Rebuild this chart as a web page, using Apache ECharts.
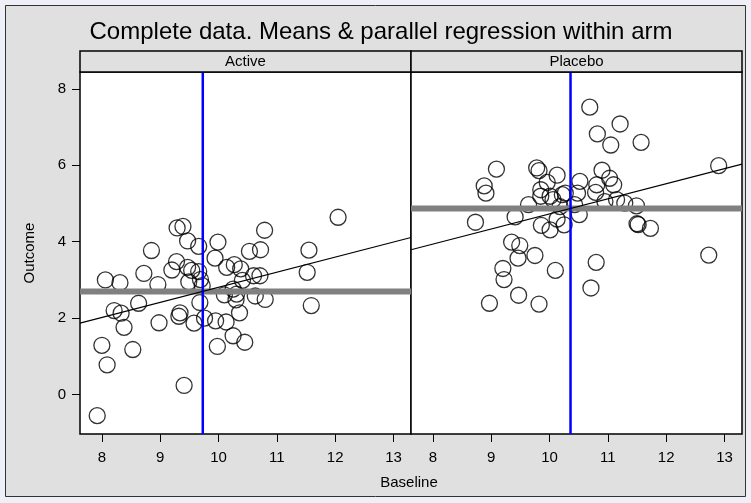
<!DOCTYPE html>
<html>
<head>
<meta charset="utf-8">
<script src="https://cdn.jsdelivr.net/npm/echarts@6/dist/echarts.min.js"></script>
<style>
html,body{margin:0;padding:0;background:#efeff7;}
#main{width:751px;height:503px;}
</style>
</head>
<body>
<div id="main"></div>
<script>
// data
var armNames = ['Active', 'Placebo'];

var activeBaseline = [12.05, 9.29, 9.39, 10.79, 9.47, 9.99, 9.66, 8.85, 11.55, 10.53,
  10.72, 9.94, 9.28, 9.20, 9.47, 9.54, 9.66, 8.72, 10.14, 10.27,
  10.38, 10.60, 10.71, 11.52, 8.06, 8.31, 8.96, 9.49, 9.69, 9.72,
  10.41, 10.25, 10.31, 10.10, 10.30, 10.63, 10.80, 9.68, 8.63, 8.21,
  8.33, 9.32, 9.34, 8.98, 9.58, 9.76, 9.95, 10.13, 10.36, 11.59,
  8.38, 10.25, 10.45, 8.00, 8.53, 9.98, 8.09, 9.41, 7.92];
var activeOutcome = [4.64, 4.36, 4.40, 4.30, 4.02, 3.99, 3.88, 3.77, 3.78, 3.75,
  3.79, 3.57, 3.48, 3.26, 3.33, 3.25, 3.22, 3.17, 3.33, 3.40,
  3.29, 3.11, 3.11, 3.20, 3.00, 2.93, 2.88, 2.95, 3.01, 2.85,
  2.99, 2.76, 2.63, 2.61, 2.48, 2.58, 2.49, 2.41, 2.39, 2.20,
  2.13, 2.05, 2.14, 1.88, 1.87, 2.00, 1.93, 1.90, 2.14, 2.33,
  1.76, 1.54, 1.37, 1.29, 1.18, 1.26, 0.78, 0.24, -0.55];

var placeboBaseline = [10.69, 11.21, 10.82, 11.05, 11.57, 12.90, 9.09, 9.78, 9.82, 10.13,
  10.90, 10.52, 11.03, 11.10, 8.88, 8.91, 9.96, 9.85, 9.85, 10.01,
  10.06, 10.27, 10.48, 10.81, 10.79, 11.15, 11.29, 11.49, 9.64, 10.18,
  10.43, 10.95, 8.73, 9.41, 9.86, 10.01, 10.13, 10.25, 10.51, 11.50,
  11.73, 9.35, 9.49, 9.75, 9.46, 10.80, 12.73, 9.20, 10.10, 9.22,
  10.71, 9.47, 8.97, 9.82, 11.52, 10.22];
var placeboOutcome = [7.52, 7.08, 6.82, 6.53, 6.60, 5.99, 5.90, 5.93, 5.86, 5.74,
  5.87, 5.58, 5.66, 5.49, 5.46, 5.27, 5.55, 5.36, 5.19, 5.19,
  5.10, 5.27, 5.27, 5.49, 5.29, 5.10, 5.01, 4.94, 4.97, 4.92,
  4.97, 5.05, 4.51, 4.65, 4.43, 4.31, 4.59, 4.44, 4.71, 4.47,
  4.35, 3.99, 3.90, 3.64, 3.57, 3.46, 3.65, 3.30, 3.25, 3.01,
  2.79, 2.60, 2.39, 2.37, 4.45, 5.23];

// means per arm [baseline, outcome] and common slope
var meanBaseline = [9.73, 10.36];
var meanOutcome = [2.70, 4.87];
var slope = 0.395;

var xTicks = [8, 9, 10, 11, 12, 13];
var yTicks = [0, 2, 4, 6, 8];
var xMin = 7.625, xMax = 13.3;
var yMin = -1.03, yMax = 8.44;

function pairs(xs, ys) {
  return xs.map(function (v, i) { return [v, ys[i]]; });
}

var font = 'Liberation Sans, Arial, sans-serif';
var points = [pairs(activeBaseline, activeOutcome), pairs(placeboBaseline, placeboOutcome)];
var lefts = [80, 411];

var grids = [], xAxes = [], yAxes = [], series = [];
[0, 1].forEach(function (k) {
  grids.push({
    left: lefts[k], top: 72, width: 331, height: 362,
    show: true, backgroundColor: '#ffffff', borderColor: '#000000', borderWidth: 1.5
  });
  xAxes.push({
    gridIndex: k, type: 'value', min: xMin, max: xMax, position: 'bottom',
    axisLine: { show: false, onZero: false },
    axisTick: { show: true, length: 8, lineStyle: { color: '#000' }, customValues: xTicks },
    axisLabel: { color: '#000', fontSize: 15, fontFamily: font, margin: 16, customValues: xTicks },
    splitLine: { show: false }
  });
  yAxes.push({
    gridIndex: k, type: 'value', min: yMin, max: yMax, position: 'left',
    axisLine: { show: false, onZero: false },
    axisTick: { show: k === 0, length: 8, lineStyle: { color: '#000' }, customValues: yTicks },
    axisLabel: { show: k === 0, color: '#000', fontSize: 15, fontFamily: font, margin: 14, customValues: yTicks },
    splitLine: { show: false }
  });
  series.push({
    type: 'scatter', xAxisIndex: k, yAxisIndex: k,
    symbol: 'circle', symbolSize: 16,
    itemStyle: { color: 'rgba(0,0,0,0)', borderColor: '#000', borderWidth: 1.3 },
    data: points[k], silent: true
  });
  // mean of outcome
  series.push({
    type: 'line', xAxisIndex: k, yAxisIndex: k, symbol: 'none', silent: true,
    lineStyle: { color: '#808080', width: 6 },
    data: [[xMin, meanOutcome[k]], [xMax, meanOutcome[k]]]
  });
  // mean of baseline
  series.push({
    type: 'line', xAxisIndex: k, yAxisIndex: k, symbol: 'none', silent: true,
    lineStyle: { color: '#0000ff', width: 2.5 },
    data: [[meanBaseline[k], yMin], [meanBaseline[k], yMax]]
  });
  // parallel regression line through the arm means
  series.push({
    type: 'line', xAxisIndex: k, yAxisIndex: k, symbol: 'none', silent: true,
    lineStyle: { color: '#000', width: 1.2 },
    data: [[xMin, meanOutcome[k] + slope * (xMin - meanBaseline[k])],
           [xMax, meanOutcome[k] + slope * (xMax - meanBaseline[k])]]
  });
});

var graphics = [
  { type: 'rect', shape: { x: 5.5, y: 5.5, width: 740, height: 491 }, z: -10,
    style: { fill: '#e0e0e0', stroke: '#333', lineWidth: 1 } },
  { type: 'text', x: 381, y: 32, z: 10,
    style: { text: 'Complete data. Means & parallel regression within arm', fontSize: 24, fontFamily: font,
             fill: '#000', textAlign: 'center', textVerticalAlign: 'middle' } },
  { type: 'text', x: 30, y: 253, rotation: Math.PI / 2, z: 10,
    style: { text: 'Outcome', fontSize: 15, fontFamily: font, fill: '#000', textAlign: 'center', textVerticalAlign: 'middle' } },
  { type: 'text', x: 409, y: 483, z: 10,
    style: { text: 'Baseline', fontSize: 15, fontFamily: font, fill: '#000', textAlign: 'center', textVerticalAlign: 'middle' } }
];
[0, 1].forEach(function (k) {
  graphics.push({ type: 'rect', shape: { x: lefts[k], y: 51, width: 331, height: 21 }, z: 5,
    style: { fill: '#e0e0e0', stroke: '#000', lineWidth: 1.5 } });
  graphics.push({ type: 'text', x: lefts[k] + 165.5, y: 62, z: 6,
    style: { text: armNames[k], fontSize: 15, fontFamily: font, fill: '#000', textAlign: 'center', textVerticalAlign: 'middle' } });
});

var chart = echarts.init(document.getElementById('main'));
chart.setOption({
  backgroundColor: '#efeff7',
  animation: false,
  grid: grids,
  xAxis: xAxes,
  yAxis: yAxes,
  series: series,
  graphic: graphics
});
</script>
</body>
</html>
